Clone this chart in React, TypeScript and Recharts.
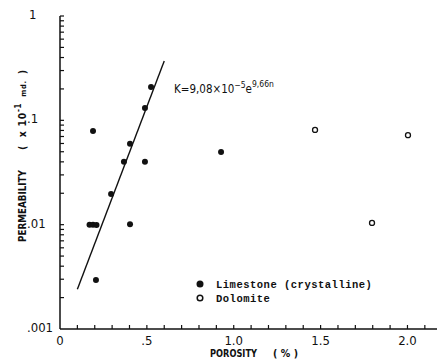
import { Scatter, ScatterChart, XAxis, YAxis } from "recharts";

// values (porosity %, permeability x10^-1 md)
const limestone = [
  { x: 0.19, y: 0.079 },
  { x: 0.524, y: 0.209 },
  { x: 0.489, y: 0.131 },
  { x: 0.403, y: 0.0595 },
  { x: 0.368, y: 0.04 },
  { x: 0.489, y: 0.04 },
  { x: 0.294, y: 0.0197 },
  { x: 0.17, y: 0.01 },
  { x: 0.19, y: 0.01 },
  { x: 0.21, y: 0.0099 },
  { x: 0.403, y: 0.0101 },
  { x: 0.207, y: 0.00295 },
  { x: 0.927, y: 0.0498 },
];

const dolomite = [
  { x: 1.468, y: 0.081 },
  { x: 2.003, y: 0.072 },
  { x: 1.796, y: 0.0104 },
];

// K = 9.08e-5 e^(9.66n), endpoints as drawn
const fitLine = [
  { x: 0.1, y: 0.0024 },
  { x: 0.6, y: 0.37 },
];

const xTicks = [0, 0.1, 0.2, 0.3, 0.4, 0.5, 0.6, 0.7, 0.8, 0.9, 1.0, 1.1, 1.2, 1.3, 1.4, 1.5, 1.6, 1.7, 1.8, 1.9, 2.0, 2.1];
const xMajorTicks = [0, 0.5, 1, 1.5, 2];
const xTickLabels = ["0", ".5", "1.0", "1.5", "2.0"];

const yTicks = [
  0.001, 0.002, 0.003, 0.004, 0.005, 0.006, 0.007, 0.008, 0.009,
  0.01, 0.02, 0.03, 0.04, 0.05, 0.06, 0.07, 0.08, 0.09,
  0.1, 0.2, 0.3, 0.4, 0.5, 0.6, 0.7, 0.8, 0.9, 1,
];
const yMajorTicks = [0.001, 0.01, 0.1, 1];
const yTickLabels = [".001", ".01", ".1", "1"];

const INK = "#111";
const NARROW = "'Liberation Sans Narrow', 'DejaVu Sans Condensed', 'Liberation Sans', sans-serif";
const MONO = "'Liberation Mono', 'DejaVu Sans Mono', monospace";

const near = (a: number, b: number) => Math.abs(a - b) < 1e-9;

function XTick({ x, y, payload }: any) {
  const v = payload.value;
  const i = xMajorTicks.findIndex((t) => near(t, v));
  return (
    <g>
      {v > 0 && <line x1={x} x2={x} y1={y} y2={y - 4} stroke={INK} strokeWidth={1.2} />}
      {i >= 0 && (
        <text x={x} y={y + 16} textAnchor="middle" fontSize={13} fontFamily={NARROW} fill={INK}>
          {xTickLabels[i]}
        </text>
      )}
    </g>
  );
}

function YTick({ x, y, payload }: any) {
  const v = payload.value;
  const i = yMajorTicks.findIndex((t) => Math.abs(t - v) / t < 1e-6);
  return (
    <g>
      {i !== 0 && <line x1={x} x2={x + 4} y1={y} y2={y} stroke={INK} strokeWidth={1.2} />}
      {i >= 0 && (
        <text x={i === 3 ? x - 31 : x - 33} y={y + 3} textAnchor="start" fontSize={13} fontFamily={NARROW} fill={INK}>
          {yTickLabels[i]}
        </text>
      )}
    </g>
  );
}

const Filled = ({ cx, cy }: any) => <circle cx={cx} cy={cy} r={3} fill={INK} />;
const Open = ({ cx, cy }: any) => <circle cx={cx} cy={cy} r={2.5} fill="#fff" stroke={INK} strokeWidth={1.3} />;
const NoDot = () => <g />;

export default function App() {
  return (
    <div style={{ position: "absolute", left: 0, top: 0, width: 438, height: 362, background: "#fff" }}>
      <ScatterChart width={438} height={362} margin={{ top: 16, right: 1, bottom: 13, left: 20 }}>
        <XAxis
          type="number"
          dataKey="x"
          domain={[0, 2.17]}
          ticks={xTicks}
          interval={0}
          height={20}
          tickSize={0}
          tickMargin={0}
          tickLine={false}
          tick={<XTick />}
          axisLine={{ stroke: INK, strokeWidth: 1.5 }}
          allowDataOverflow
        />
        <YAxis
          type="number"
          dataKey="y"
          scale="log"
          domain={[0.001, 1]}
          ticks={yTicks}
          interval={0}
          width={40}
          tickSize={0}
          tickMargin={0}
          tickLine={false}
          tick={<YTick />}
          axisLine={{ stroke: INK, strokeWidth: 1.5 }}
          allowDataOverflow
        />
        <Scatter data={fitLine} line={{ stroke: INK, strokeWidth: 1.4 }} shape={<NoDot />} isAnimationActive={false} />
        <Scatter data={limestone} shape={<Filled />} isAnimationActive={false} />
        <Scatter data={dolomite} shape={<Open />} isAnimationActive={false} />
      </ScatterChart>

      <svg width={438} height={362} style={{ position: "absolute", left: 0, top: 0, pointerEvents: "none" }}>
        {/* fit equation */}
        <text x={174} y={93} fontSize={11.5} fontFamily={NARROW} fill={INK}>
          K=9,08×10
          <tspan dy={-5} fontSize={8.5}>−5</tspan>
          <tspan dy={5}>e</tspan>
          <tspan dy={-6} fontSize={8.5}>9,66n</tspan>
        </text>

        {/* y axis title */}
        <text
          transform="translate(26,242) rotate(-90)"
          fontSize={10.5}
          fontWeight="bold"
          fontFamily={NARROW}
          fill={INK}
          textLength={72}
          lengthAdjust="spacingAndGlyphs"
        >
          PERMEABILITY
        </text>
        <text
          transform="translate(26,150) rotate(-90)"
          fontSize={10.5}
          fontWeight="bold"
          fontFamily={NARROW}
          fill={INK}
          style={{ whiteSpace: "pre" }}
          textLength={80}
          lengthAdjust="spacing"
        >
          {"(  x 10"}
          <tspan dy={-5} fontSize={8}>-1</tspan>
          <tspan dy={5} fontSize={7.5}>{"  md.  "}</tspan>
          <tspan>)</tspan>
        </text>

        {/* x axis title */}
        <text x={210} y={357} fontSize={10.5} fontWeight="bold" fontFamily={NARROW} fill={INK} textLength={47} lengthAdjust="spacingAndGlyphs">
          POROSITY
        </text>
        <text x={273} y={357} fontSize={10.5} fontWeight="bold" fontFamily={NARROW} fill={INK} style={{ whiteSpace: "pre" }} textLength={25} lengthAdjust="spacing">
          {"( % )"}
        </text>

        {/* legend */}
        <circle cx={200} cy={284} r={3.5} fill={INK} />
        <text x={216} y={287.5} fontSize={10.5} fontWeight="bold" fontFamily={MONO} letterSpacing={0.5} fill={INK}>
          Limestone (crystalline)
        </text>
        <circle cx={200} cy={298} r={2.8} fill="#fff" stroke={INK} strokeWidth={1.5} />
        <text x={216} y={301.5} fontSize={10.5} fontWeight="bold" fontFamily={MONO} letterSpacing={0.5} fill={INK}>
          Dolomite
        </text>
      </svg>
    </div>
  );
}
